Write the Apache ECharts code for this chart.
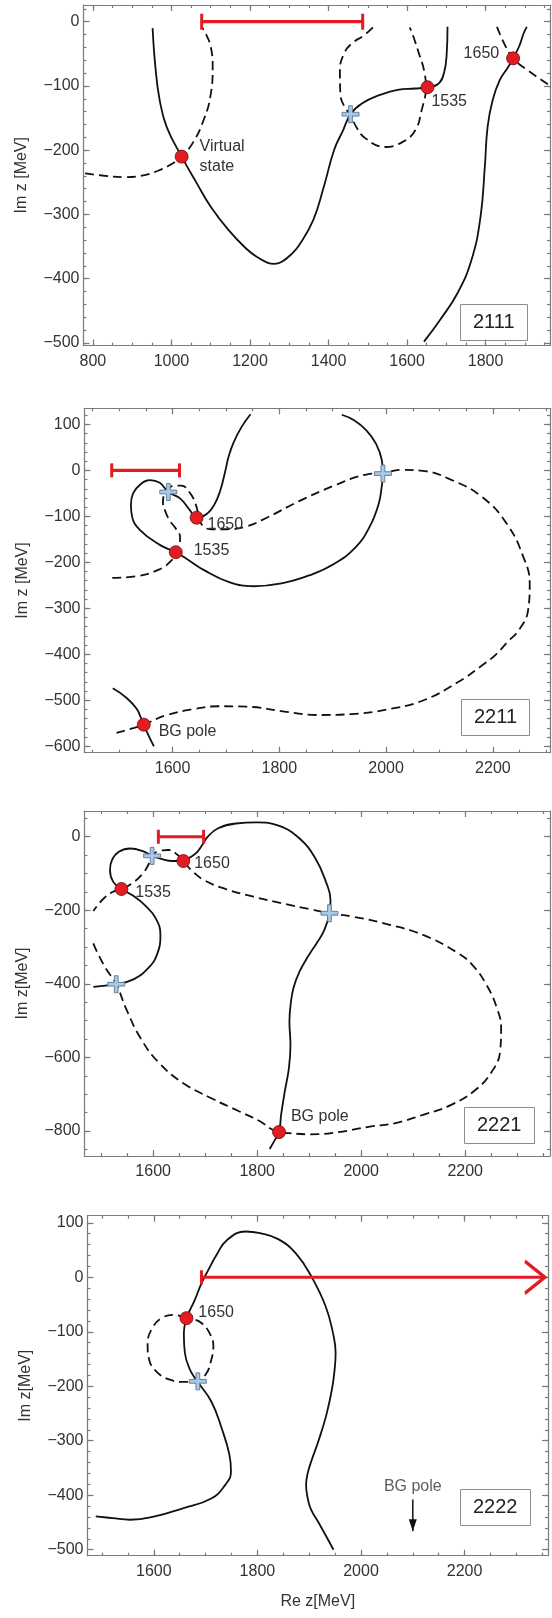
<!DOCTYPE html>
<html>
<head>
<meta charset="utf-8">
<script src="https://cdn.jsdelivr.net/npm/echarts@6/dist/echarts.min.js"></script>
<style>
html,body{margin:0;padding:0;background:#fff}
#c{width:552px;height:1618px}
</style>
</head>
<body>
<div id="c"></div>
<script>
// ---------- Panel 2111 ----------
const p1SolidA = [[952,-10],[959,-70],[970,-122],[988,-164],[1026,-210],[1065,-252],[1100,-288],[1145,-324],[1190,-353],[1217,-366],[1244,-375],[1262,-377],[1280,-374],[1307,-361],[1325,-348],[1361,-309],[1388,-257],[1414,-200],[1437,-169],[1456,-144],[1486,-127],[1531,-114],[1576,-106],[1621,-104],[1652,-102],[1679,-97],[1694,-80],[1701,-49],[1703,-8]];
const p1SolidB = [[1643,-498],[1683,-465],[1728,-423],[1764,-371],[1787,-304],[1798,-226],[1805,-164],[1818,-122],[1836,-91],[1858,-70],[1870,-57],[1885,-39],[1897,-18],[1905,-8]];
const p1DashA = [[780,-236],[831,-240],[881,-242],[921,-240],[966,-232],[1002,-221],[1026,-210],[1056,-187],[1082,-153],[1099,-117],[1105,-70],[1100,-39],[1087,-18],[1078,-9]];
const p1DashB = [[1513,-9],[1491,-21],[1459,-34],[1440,-49],[1429,-75],[1430,-112],[1443,-135],[1456,-144],[1470,-163],[1495,-182],[1544,-195],[1589,-187],[1621,-169],[1637,-138],[1648,-102],[1643,-75],[1630,-49],[1616,-23],[1607,-9]];
const p1DashC = [[1829,-8],[1849,-36],[1870,-57],[1908,-76],[1953,-95],[1964,-100]];
const p1Poles = [[1026,-210],[1652,-102],[1870,-57]];
const p1PoleNames = ['Virtual\nstate','1535','1650'];
const p1Cross = [[1456,-144]];
const p1Cut = [[1077,0],[1487,0]];

// ---------- Panel 2211 ----------
const p2SolidA = [[1746,122],[1729,94],[1714,60],[1705,30],[1698,-5],[1689,-45],[1678,-75],[1664,-95],[1645,-103],[1632,-86],[1614,-61],[1592,-47],[1576,-27],[1558,-21],[1540,-30],[1526,-50],[1522,-75],[1524,-100],[1539,-130],[1576,-162],[1606,-178],[1626,-192],[1659,-217],[1706,-243],[1752,-252],[1804,-246],[1857,-228],[1903,-203],[1943,-167],[1969,-123],[1986,-73],[1992,-33],[1994,-7],[1992,22],[1981,58],[1963,87],[1940,109],[1917,121]];
const p2SolidB = [[1488,-474],[1514,-495],[1533,-519],[1542,-542],[1546,-553],[1554,-574],[1565,-600]];
const p2Dash = [[1487,-234],[1534,-230],[1574,-216],[1597,-197],[1606,-178],[1614,-160],[1614,-145],[1605,-125],[1595,-110],[1586,-88],[1582,-70],[1584,-52],[1592,-40],[1603,-33],[1616,-33],[1632,-48],[1644,-76],[1650,-106],[1657,-121],[1672,-128],[1700,-128],[1738,-122],[1778,-102],[1837,-67],[1903,-33],[1963,-9],[1992,-6],[2029,1],[2068,-1],[2121,-20],[2180,-58],[2226,-116],[2257,-188],[2269,-246],[2266,-304],[2250,-345],[2226,-375],[2206,-400],[2187,-418],[2134,-461],[2068,-501],[2002,-520],[1936,-530],[1870,-532],[1818,-526],[1739,-514],[1686,-513],[1640,-519],[1587,-533],[1546,-553],[1528,-560],[1495,-571]];
const p2Poles = [[1645,-103],[1606,-178],[1546,-553]];
const p2PoleNames = ['1650','1535','BG pole'];
const p2Cross = [[1592,-47],[1994,-7]];
const p2Cut = [[1486,0],[1613,0]];

// ---------- Panel 2221 ----------
const p3Solid = [[1485,-408],[1529,-401],[1563,-387],[1590,-358],[1607,-322],[1614,-267],[1605,-222],[1584,-186],[1561,-160],[1539,-142],[1523,-122],[1517,-91],[1521,-63],[1534,-41],[1556,-32],[1580,-39],[1598,-52],[1617,-61],[1637,-66],[1658,-66],[1671,-56],[1685,-41],[1695,-21],[1705,0],[1725,23],[1759,36],[1800,39],[1841,30],[1881,-4],[1912,-59],[1932,-122],[1941,-172],[1939,-208],[1929,-254],[1914,-290],[1898,-325],[1882,-365],[1870,-410],[1864,-460],[1862,-503],[1864,-566],[1861,-629],[1853,-693],[1846,-756],[1842,-803],[1833,-827],[1824,-849]];
const p3Dash = [[1485,-290],[1492,-313],[1509,-358],[1529,-401],[1549,-471],[1576,-548],[1610,-613],[1658,-670],[1712,-711],[1766,-747],[1807,-775],[1826,-794],[1842,-803],[1861,-806],[1902,-809],[1956,-803],[2017,-788],[2064,-779],[2119,-756],[2173,-729],[2220,-688],[2251,-639],[2267,-584],[2269,-521],[2261,-466],[2241,-403],[2214,-349],[2187,-317],[2119,-267],[2051,-238],[1983,-217],[1939,-208],[1902,-197],[1848,-181],[1793,-163],[1739,-142],[1698,-118],[1675,-93],[1658,-66],[1646,-48],[1629,-36],[1610,-39],[1598,-52],[1593,-70],[1580,-100],[1559,-127],[1539,-142],[1521,-151],[1502,-172],[1485,-202]];
const p3Poles = [[1539,-142],[1658,-66],[1842,-803]];
const p3PoleNames = ['1535','1650','BG pole'];
const p3Cross = [[1598,-52],[1939,-208],[1529,-401]];
const p3Cut = [[1610,0],[1697,0]];

// ---------- Panel 2222 ----------
const p4Solid = [[1488,-439],[1520,-442],[1554,-445],[1602,-439],[1656,-424],[1711,-406],[1738,-381],[1749,-357],[1746,-326],[1731,-277],[1711,-228],[1684,-191],[1670,-170],[1660,-139],[1658,-103],[1663,-75],[1670,-60],[1679,-42],[1692,-11],[1705,13],[1721,41],[1741,68],[1777,84],[1805,81],[1840,70],[1875,43],[1905,0],[1932,-54],[1946,-103],[1951,-139],[1949,-170],[1944,-205],[1933,-253],[1918,-300],[1905,-335],[1897,-360],[1894,-381],[1896,-400],[1903,-425],[1921,-455],[1947,-500]];
const p4Dash = [[1663,-75],[1638,-69],[1615,-75],[1598,-92],[1588,-121],[1591,-151],[1605,-173],[1631,-188],[1660,-192],[1684,-191],[1701,-177],[1710,-155],[1715,-127],[1708,-103],[1692,-84],[1676,-77],[1663,-75]];
const p4Poles = [[1663,-75]];
const p4PoleNames = ['1650'];
const p4Cross = [[1685,-191]];
const p4Cut = [[1692,0],[2355,0]];
const p4BgArrow = [[2100,-408],[2100,-466]];
const p4BgName = 'BG pole';

// ---------- Axis ticks ----------
const xMajor1 = [800,1000,1200,1400,1600,1800];
const yMajor1 = [0,-100,-200,-300,-400,-500];
const xMajor2 = [1600,1800,2000,2200];
const yMajor2 = [100,0,-100,-200,-300,-400,-500,-600];
const xMajor3 = [1600,1800,2000,2200];
const yMajor3 = [0,-200,-400,-600,-800];
const xMajor4 = [1600,1800,2000,2200];
const yMajor4 = [100,0,-100,-200,-300,-400,-500];
const panelTags = ['2111','2211','2221','2222'];

function steps(a, b, s) { const out = []; for (let v = a; v <= b + 1e-9; v += s) out.push(v); return out; }

const FONT = '"Liberation Sans", Arial, Helvetica, sans-serif';
const RED = '#e31b23';
const FRAME = '#7a7a7a';
const TXT = '#333';

// frame geometry and axis ranges of the four stacked panels
const panels = [
  { grid:{left:83.5, top:5,     width:466.5, height:340.5}, xr:[776,1964],  yr:[-504,26],
    xMajor:xMajor1, yMajor:yMajor1, xMinor:steps(800,1950,50),  yMinor:steps(-500,20,20),
    yName:'Im z [MeV]', xName:'' },
  { grid:{left:84.5, top:408.3, width:465.5, height:344.4}, xr:[1435,2307], yr:[-614,135],
    xMajor:xMajor2, yMajor:yMajor2, xMinor:steps(1450,2300,50), yMinor:steps(-600,120,20),
    yName:'Im z [MeV]', xName:'' },
  { grid:{left:84.5, top:811,   width:465.5, height:345},   xr:[1468,2363], yr:[-868,70],
    xMajor:xMajor3, yMajor:yMajor3, xMinor:steps(1500,2350,50), yMinor:steps(-850,50,50),
    yName:'Im z[MeV]', xName:'' },
  { grid:{left:87.5, top:1215.7,width:460.5, height:340},   xr:[1472,2361], yr:[-511,113],
    xMajor:xMajor4, yMajor:yMajor4, xMinor:steps(1500,2350,50), yMinor:steps(-500,100,20),
    yName:'Im z[MeV]', xName:'Re z[MeV]' }
];
const tagBoxes = [{left:460, top:304}, {left:461, top:699}, {left:464, top:1107}, {left:460, top:1489}];

const fmt = v => (v < 0 ? '\u2212' + (-v) : String(v));
const frameLine = {color:FRAME, width:1.2};

const xAxes = [], yAxes = [], grids = [], titles = [];
panels.forEach((P, i) => {
  grids.push(Object.assign({containLabel:false, outerBoundsMode:'none'}, P.grid));
  titles.push({
    text: panelTags[i], left: tagBoxes[i].left, top: tagBoxes[i].top,
    borderColor:'#8c8c8c', borderWidth:1, padding:[8,13],
    textStyle:{fontSize:20, fontWeight:'normal', color:'#222', fontFamily:FONT, lineHeight:21}
  });
  const base = (mn, mx, extra) => Object.assign({
    gridIndex:i, type:'value', min:mn, max:mx, silent:true,
    splitLine:{show:false}, axisLine:{show:false, onZero:false},
    axisLabel:{show:false}, axisTick:{show:false}
  }, extra);
  const tick = (vals, len) => ({show:true, inside:true, length:len, customValues:vals, lineStyle:frameLine});
  // x axes: bottom major (labels), bottom minor, top major, top minor
  xAxes.push(base(P.xr[0], P.xr[1], {
    position:'bottom', axisLine:{show:true, onZero:false, lineStyle:frameLine},
    axisTick:tick(P.xMajor, 6),
    axisLabel:{show:true, customValues:P.xMajor, formatter:fmt, fontSize:16, color:TXT, margin:8, fontFamily:FONT},
    name:P.xName, nameLocation:'middle', nameGap:38,
    nameTextStyle:{fontSize:16, color:TXT, fontFamily:FONT}
  }));
  xAxes.push(base(P.xr[0], P.xr[1], {position:'bottom', axisTick:tick(P.xMinor, 3)}));
  xAxes.push(base(P.xr[0], P.xr[1], {position:'top', axisLine:{show:true, onZero:false, lineStyle:frameLine}, axisTick:tick(P.xMajor, 6)}));
  xAxes.push(base(P.xr[0], P.xr[1], {position:'top', axisTick:tick(P.xMinor, 3)}));
  // y axes: left major (labels), left minor, right major, right minor
  yAxes.push(base(P.yr[0], P.yr[1], {
    position:'left', axisLine:{show:true, onZero:false, lineStyle:frameLine},
    axisTick:tick(P.yMajor, 6),
    axisLabel:{show:true, customValues:P.yMajor, formatter:fmt, fontSize:16, color:TXT, margin:4, fontFamily:FONT},
    name:P.yName, nameLocation:'middle', nameGap:54,
    nameTextStyle:{fontSize:16, color:TXT, fontFamily:FONT}
  }));
  yAxes.push(base(P.yr[0], P.yr[1], {position:'left', axisTick:tick(P.yMinor, 3)}));
  yAxes.push(base(P.yr[0], P.yr[1], {position:'right', axisLine:{show:true, onZero:false, lineStyle:frameLine}, axisTick:tick(P.yMajor, 6)}));
  yAxes.push(base(P.yr[0], P.yr[1], {position:'right', axisTick:tick(P.yMinor, 3)}));
});

const series = [];
const ax = i => ({xAxisIndex:i*4, yAxisIndex:i*4});

function curve(i, data, dashed) {
  series.push(Object.assign({
    type:'line', data, symbol:'none', showSymbol:false, smooth:0.45, silent:true, clip:true, z:2,
    lineStyle:{color:'#111', width:1.8, type: dashed ? [9,5] : 'solid'}
  }, ax(i)));
}
function poles(i, pts, names, labelOpts) {
  series.push(Object.assign({
    type:'scatter', symbol:'circle', symbolSize:13, silent:true, z:6,
    itemStyle:{color:RED, borderColor:'#6e0b0b', borderWidth:0.8, opacity:1},
    label:{show:true, formatter:'{b}', fontSize:16, color:TXT, fontFamily:FONT, lineHeight:20},
    data: pts.map((p, k) => ({value:p, name:names[k], label:labelOpts[k]}))
  }, ax(i)));
}
function crosses(i, pts) {
  series.push(Object.assign({
    type:'scatter', silent:true, z:5, symbolSize:17,
    symbol:'path://M7,0 H11 V7 H18 V11 H11 V18 H7 V11 H0 V7 H7 Z',
    itemStyle:{color:'#a9c8e8', borderColor:'#5b7893', borderWidth:0.9, opacity:1},
    data: pts
  }, ax(i)));
}
function cut(i, pts, openEnd, capH) {
  const cap = {symbol:'rect', symbolSize:[3, capH]};
  const end = openEnd
    ? {symbol:'path://M0,0 L10,12 L0,24', symbolSize:[20,32], symbolOffset:['-50%',0],
       itemStyle:{color:'rgba(0,0,0,0)', borderColor:RED, borderWidth:3}}
    : cap;
  series.push(Object.assign({
    type:'line', silent:true, z:7, showSymbol:true, showAllSymbol:true,
    lineStyle:{color:RED, width:3.2}, itemStyle:{color:RED},
    data:[Object.assign({value:pts[0]}, cap), Object.assign({value:pts[1]}, end)]
  }, ax(i)));
}

// 2111
curve(0, p1SolidA, false); curve(0, p1SolidB, false);
curve(0, p1DashA, true); curve(0, p1DashB, true); curve(0, p1DashC, true);
cut(0, p1Cut, false, 16);
crosses(0, p1Cross);
poles(0, p1Poles, p1PoleNames, [
  {position:'right', offset:[6,0]},
  {position:'right', offset:[-8,14]},
  {position:'left', offset:[-2,-5]}
]);

// 2211
curve(1, p2SolidA, false); curve(1, p2SolidB, false); curve(1, p2Dash, true);
cut(1, p2Cut, false, 14);
crosses(1, p2Cross);
poles(1, p2Poles, p2PoleNames, [
  {position:'right', offset:[-1,7]},
  {position:'right', offset:[6,-2]},
  {position:'right', offset:[3,7]}
]);

// 2221
curve(2, p3Solid, false); curve(2, p3Dash, true);
cut(2, p3Cut, false, 14);
crosses(2, p3Cross);
poles(2, p3Poles, p3PoleNames, [
  {position:'right', offset:[2,4]},
  {position:'right', offset:[-1,3]},
  {position:'right', offset:[0,-15]}
]);

// 2222
curve(3, p4Solid, false); curve(3, p4Dash, true);
cut(3, p4Cut, true, 14);
crosses(3, p4Cross);
poles(3, p4Poles, p4PoleNames, [{position:'right', offset:[0,-6]}]);
// background pole lies off the plotted range: arrow pointing at it
series.push(Object.assign({
  type:'line', silent:true, z:4, showSymbol:true, showAllSymbol:true,
  lineStyle:{color:'#111', width:1.5}, itemStyle:{color:'#111'},
  data:[{value:p4BgArrow[0], symbol:'none'},
        {value:p4BgArrow[1], symbol:'path://M0,0 L10,0 L5,12 Z', symbolSize:[8,12], symbolOffset:[0,'-50%']}]
}, ax(3)));
series.push(Object.assign({
  type:'scatter', silent:true, z:4, symbol:'circle', symbolSize:1,
  itemStyle:{color:'rgba(0,0,0,0)'},
  label:{show:true, position:'top', distance:4, formatter:'{b}', fontSize:16, color:TXT, fontFamily:FONT},
  data:[{value:p4BgArrow[0], name:p4BgName}]
}, ax(3)));

const chart = echarts.init(document.getElementById('c'), null, {renderer:'canvas', width:552, height:1618});
chart.setOption({
  animation:false,
  backgroundColor:'#fff',
  textStyle:{fontFamily:FONT},
  title:titles,
  grid:grids,
  xAxis:xAxes,
  yAxis:yAxes,
  series:series
});
</script>
</body>
</html>
